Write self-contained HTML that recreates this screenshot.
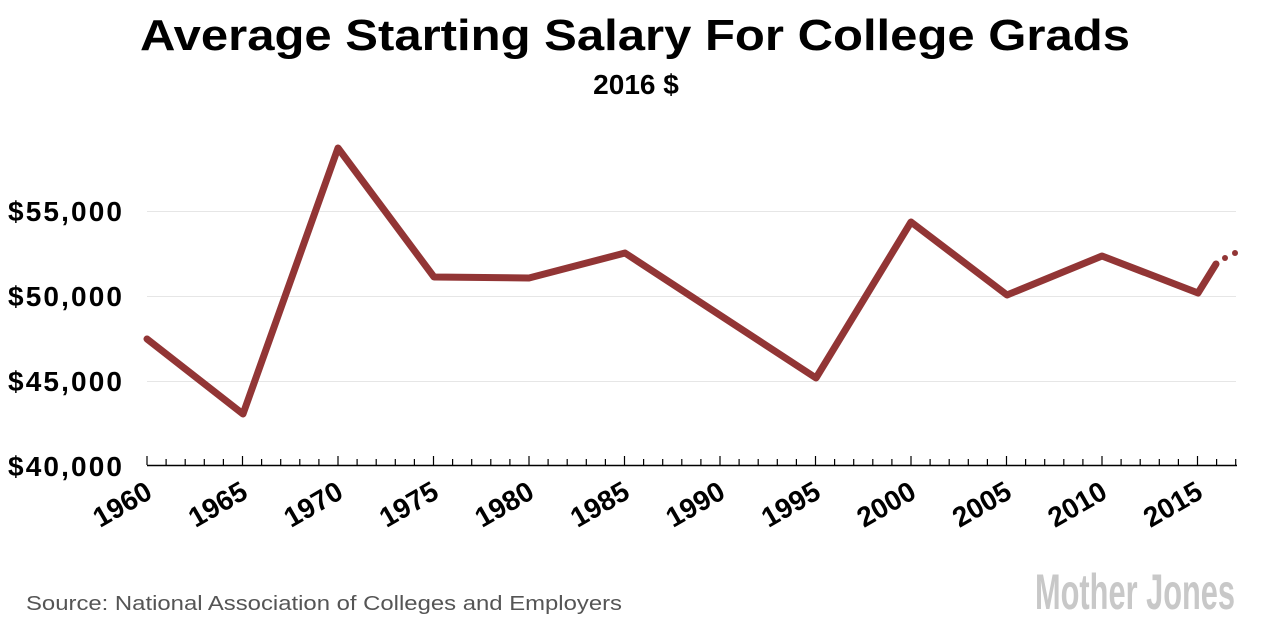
<!DOCTYPE html>
<html><head><meta charset="utf-8"><style>
body{margin:0;background:#fff;width:1271px;height:624px;overflow:hidden}
</style></head><body>
<svg width="1271" height="624" xmlns="http://www.w3.org/2000/svg" font-family="Liberation Sans, sans-serif">
<text x="140" y="50" font-size="44" font-weight="bold" fill="#000" textLength="990" lengthAdjust="spacingAndGlyphs">Average Starting Salary For College Grads</text>
<text x="636" y="94" text-anchor="middle" font-size="28" font-weight="bold" fill="#000">2016 $</text>
<g stroke="#e6e6e6" stroke-width="1">
<line x1="147" y1="211.5" x2="1236" y2="211.5"/>
<line x1="147" y1="296.5" x2="1236" y2="296.5"/>
<line x1="147" y1="381.5" x2="1236" y2="381.5"/>
</g>
<g font-size="28" font-weight="bold" fill="#000" text-anchor="end">
<text x="122" y="221" textLength="114">$55,000</text>
<text x="122" y="306" textLength="114">$50,000</text>
<text x="122" y="391" textLength="114">$45,000</text>
<text x="122" y="476" textLength="114">$40,000</text>
</g>
<line x1="147" y1="465.5" x2="1237" y2="465.5" stroke="#000" stroke-width="1.5"/>
<g stroke="#000" stroke-width="1.2" id="ticks"></g>
<g font-size="28" font-weight="bold" fill="#000" text-anchor="end" id="labels"></g>
<polyline fill="none" stroke="#923535" stroke-width="7" stroke-linejoin="round" stroke-linecap="round"
points="147,339 243,414 338,148 434,277 529,278 625,253 816,378 911,222 1007,295 1102,256 1198,293 1216,264"/>
<circle cx="1225" cy="258" r="3" fill="#923535"/>
<circle cx="1235" cy="253" r="3" fill="#923535"/>
<text x="26" y="610" font-size="20" fill="#555" textLength="596" lengthAdjust="spacingAndGlyphs">Source: National Association of Colleges and Employers</text>
<text x="1035" y="609" font-size="50" font-weight="bold" fill="#c8c8c8" textLength="200" lengthAdjust="spacingAndGlyphs">Mother Jones</text>
</svg>
<script>
var t=document.getElementById('ticks'),l=document.getElementById('labels'),ns='http://www.w3.org/2000/svg';
for(var i=0;i<=57;i++){var x=147+i*19.1;var e=document.createElementNS(ns,'line');e.setAttribute('x1',x);e.setAttribute('x2',x);e.setAttribute('y1',i%5==0?456:459);e.setAttribute('y2',465);t.appendChild(e);
if(i%5==0&&i<=55){var s=document.createElementNS(ns,'text');s.setAttribute('transform','translate('+(x+7)+',497) rotate(-30)');s.textContent=1960+i;l.appendChild(s);}}
</script>
</body></html>
